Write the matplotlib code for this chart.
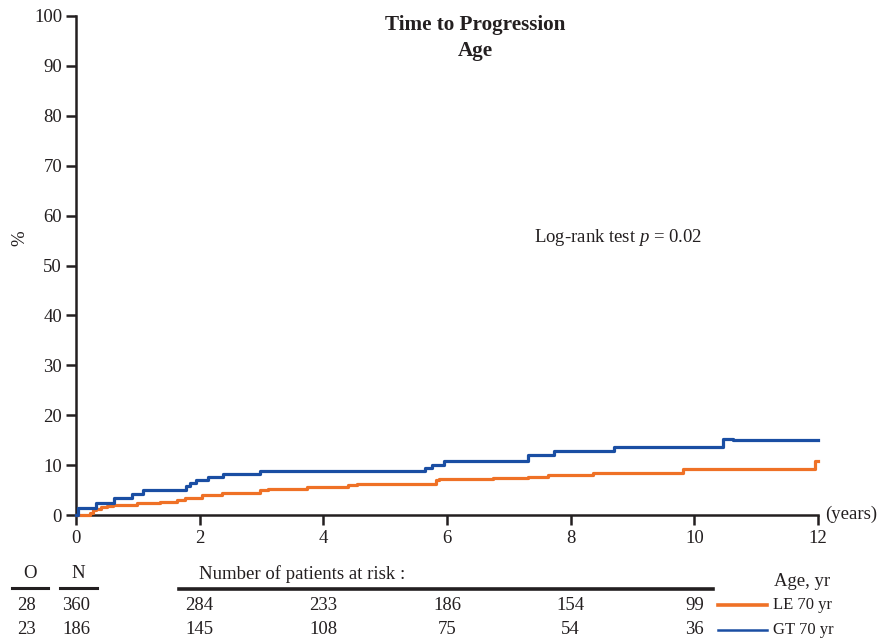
import matplotlib
matplotlib.use("Agg")
import matplotlib.pyplot as plt
from matplotlib.transforms import blended_transform_factory

plt.rcParams['font.family'] = ['Liberation Serif', 'DejaVu Serif']
plt.rcParams['mathtext.fontset'] = 'custom'
plt.rcParams['mathtext.rm'] = 'Liberation Serif'
plt.rcParams['mathtext.it'] = 'Liberation Serif:italic'

# ---- data ----
le_years = [0, 0.23, 0.28, 0.33, 0.40, 0.50, 0.60, 0.98, 1.36, 1.63, 1.76, 2.03, 2.36,
            2.98, 3.10, 3.73, 4.40, 4.54, 5.82, 5.87, 6.74, 7.31, 7.63, 8.36, 9.82, 11.95, 12.0]
le_pct = [0, 0.5, 1.0, 1.3, 1.6, 1.9, 2.1, 2.5, 2.7, 3.0, 3.4, 4.0, 4.5,
          5.0, 5.3, 5.6, 6.0, 6.3, 7.0, 7.3, 7.5, 7.7, 8.1, 8.5, 9.2, 10.8, 10.8]

gt_years = [0, 0.03, 0.32, 0.61, 0.90, 1.09, 1.78, 1.84, 1.94, 2.14, 2.38, 2.98,
            5.64, 5.75, 5.95, 7.31, 7.73, 8.70, 10.46, 10.63, 12.0]
gt_pct = [0, 1.5, 2.5, 3.5, 4.2, 5.0, 5.9, 6.4, 7.0, 7.7, 8.2, 8.8,
          9.5, 10.1, 10.9, 12.0, 12.9, 13.7, 15.2, 15.1, 15.1]

risk_years = [2, 4, 6, 8, 10]
le_at_risk = [284, 233, 186, 154, 99]
gt_at_risk = [145, 108, 75, 54, 36]
group_labels = ['LE 70 yr', 'GT 70 yr']
observed = [28, 23]
totals = [360, 186]

x_ticks = [0, 2, 4, 6, 8, 10, 12]
y_ticks = [0, 10, 20, 30, 40, 50, 60, 70, 80, 90, 100]

ORANGE = '#ef7126'
BLUE = '#1a4ea3'
DARK = '#231f20'

W, H = 878, 640
fig = plt.figure(figsize=(W / 100, H / 100), dpi=100)
ax = fig.add_axes([76 / W, 1 - 515 / H, (818 - 76) / W, (515 - 16) / H])

ax.step(le_years, le_pct, where='post', color=ORANGE, lw=2.3, clip_on=False, zorder=3)
ax.step(gt_years, gt_pct, where='post', color=BLUE, lw=2.3, clip_on=False, zorder=4)

ax.set_xlim(0, 12)
ax.set_ylim(0, 100)
ax.set_xticks(x_ticks)
ax.set_yticks(y_ticks)
for s in ['top', 'right']:
    ax.spines[s].set_visible(False)
for s in ['left', 'bottom']:
    ax.spines[s].set_linewidth(1.8)
    ax.spines[s].set_color(DARK)
fs = 13.5
ax.tick_params(axis='both', direction='out', length=7, width=1.8, color=DARK,
               labelsize=fs, labelcolor=DARK)
ax.tick_params(axis='y', pad=3)
ax.tick_params(axis='x', pad=3.5)

def px(x, y):
    return x / W, 1 - y / H

fig.text(*px(20, 238), '%', rotation=90, ha='center', va='center', fontsize=fs, color=DARK)
fig.text(*px(825, 514), '(years)', ha='left', va='center', fontsize=fs, color=DARK)

fig.text(*px(475, 25), 'Time to Progression', ha='center', va='center',
         fontsize=15.2, fontweight='bold', color=DARK)
fig.text(*px(475, 51), 'Age', ha='center', va='center',
         fontsize=15.2, fontweight='bold', color=DARK)
fig.text(*px(618, 237), 'Log-rank test $p$ = 0.02', ha='center', va='center',
         fontsize=fs, color=DARK)

# ---- table below ----
fig.text(*px(30, 574), 'O', ha='center', va='center', fontsize=fs, color=DARK)
fig.text(*px(78, 574), 'N', ha='center', va='center', fontsize=fs, color=DARK)
fig.add_artist(plt.Line2D([12 / W, 48 / W], [1 - 588 / H] * 2, color=DARK, lw=2.2))
fig.add_artist(plt.Line2D([60 / W, 97 / W], [1 - 588 / H] * 2, color=DARK, lw=2.2))
fig.text(*px(199, 574), 'Number of patients at risk :', ha='left', va='center', fontsize=fs, color=DARK)
fig.add_artist(plt.Line2D([179 / W, 713 / W], [1 - 589 / H] * 2, color=DARK, lw=2.6))
fig.text(*px(802, 582), 'Age, yr', ha='center', va='center', fontsize=fs, color=DARK)

trans = blended_transform_factory(ax.transData, fig.transFigure)
rows_y = [605, 630]
risk_rows = [le_at_risk, gt_at_risk]
colors = [ORANGE, BLUE]
widths = [2.6, 1.8]
for i in range(2):
    yf = 1 - rows_y[i] / H
    fig.text(27 / W, yf, str(observed[i]), ha='center', va='center', fontsize=fs, color=DARK)
    fig.text(76 / W, yf, str(totals[i]), ha='center', va='center', fontsize=fs, color=DARK)
    for yr, n in zip(risk_years, risk_rows[i]):
        fig.text(yr, yf, str(n), transform=trans, ha='center', va='center', fontsize=fs, color=DARK)
    fig.add_artist(plt.Line2D([718 / W, 767 / W], [yf, yf], color=colors[i], lw=widths[i]))
    fig.text(773 / W, yf, group_labels[i], ha='left', va='center', fontsize=12, color=DARK)

fig.savefig('out.png', dpi=100)
